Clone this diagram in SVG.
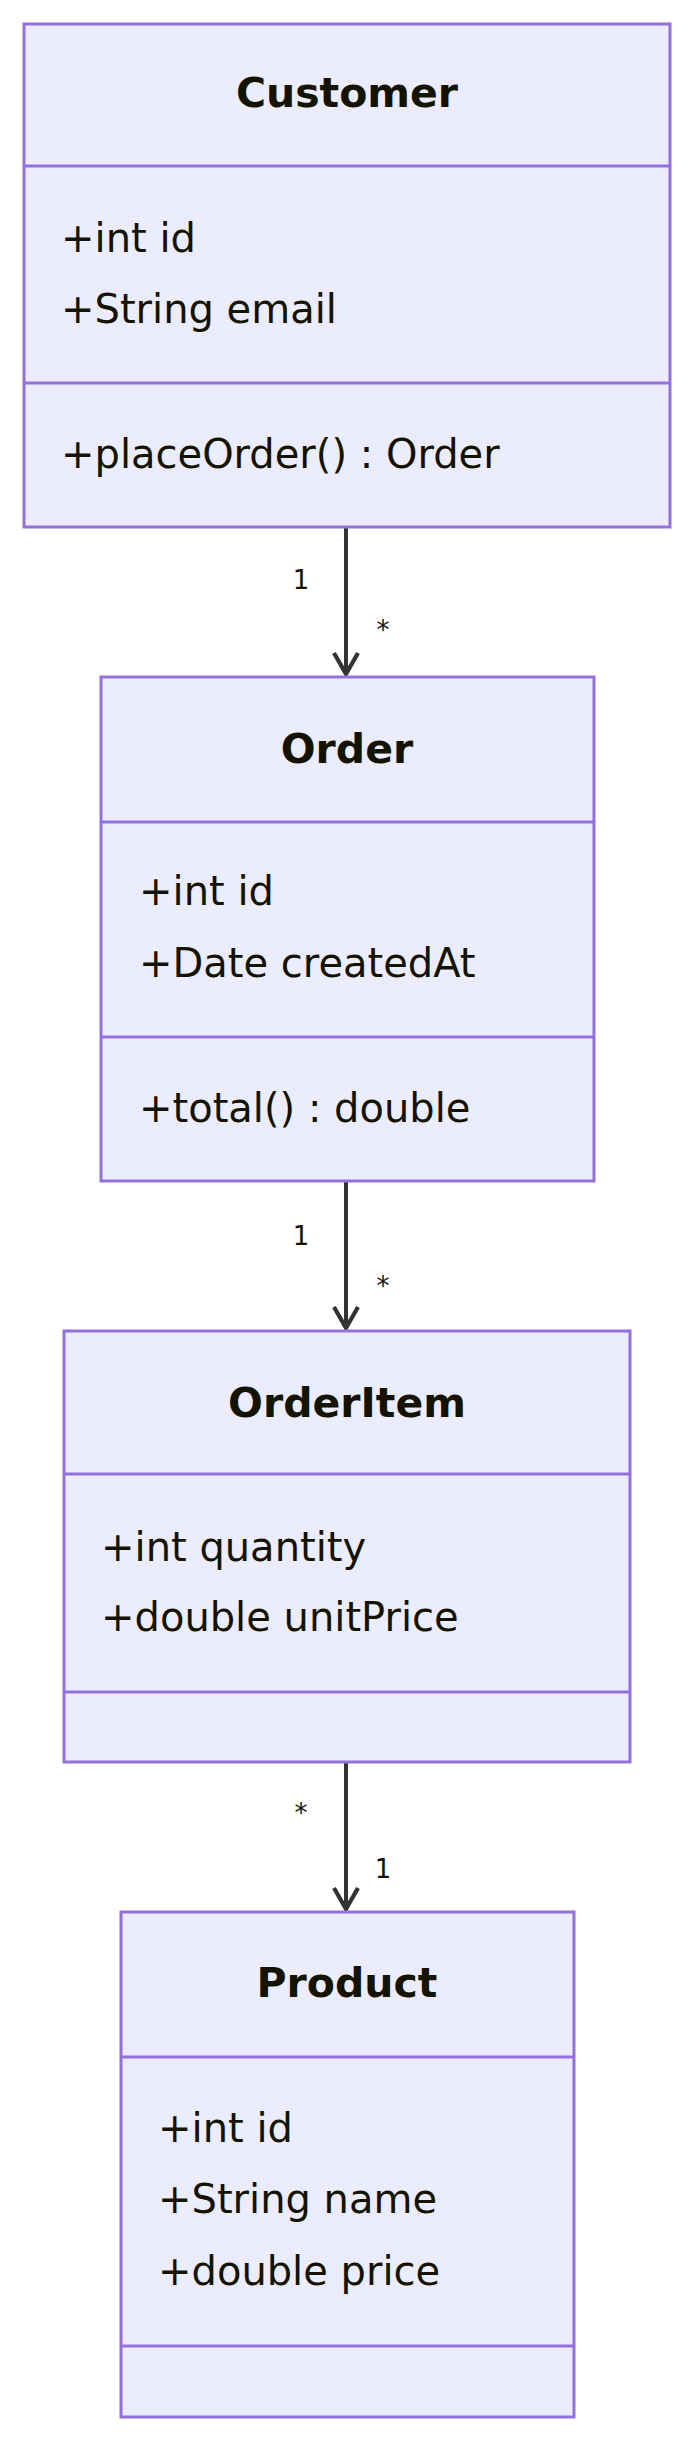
<svg xmlns="http://www.w3.org/2000/svg" width="696" height="2442" viewBox="0 0 696 2442">
<style>
.box{fill:#ECECFF;stroke:#9370DB;stroke-width:3}
.div{stroke:#9370DB;stroke-width:3}
.t{font-family:"DejaVu Sans",sans-serif;font-size:41px;font-weight:bold;fill:#131300;text-anchor:middle;dominant-baseline:central}
.a{font-family:"DejaVu Sans",sans-serif;font-size:40px;fill:#131300;dominant-baseline:central}
.l{font-family:"DejaVu Sans",sans-serif;font-size:26px;fill:#131300;text-anchor:middle;dominant-baseline:central}
.e{stroke:#333;stroke-width:4;fill:none}
</style>
<defs><marker id="ah" viewBox="0 0 20 20" refX="17" refY="10" markerWidth="30" markerHeight="30" markerUnits="userSpaceOnUse" orient="auto"><path d="M3,2 L17,10 L3,18" fill="none" stroke="#333" stroke-width="2.8"/></marker></defs>
<rect width="696" height="2442" fill="#fff"/>
<g id="connectors">
<line class="e" x1="346" y1="527" x2="346" y2="674" marker-end="url(#ah)"/>
<line class="e" x1="346" y1="1181" x2="346" y2="1328" marker-end="url(#ah)"/>
<line class="e" x1="346" y1="1762" x2="346" y2="1909" marker-end="url(#ah)"/>
<text class="l" x="301" y="580">1</text><text class="l" x="383" y="630">*</text>
<text class="l" x="301" y="1236">1</text><text class="l" x="383" y="1286">*</text>
<text class="l" x="301" y="1813">*</text><text class="l" x="383" y="1869">1</text>
</g>
<g id="Customer">
<rect class="box" x="24" y="24" width="646" height="503"/>
<line class="div" x1="24" y1="166" x2="670" y2="166"/><line class="div" x1="24" y1="383" x2="670" y2="383"/>
<text class="t" x="347" y="93">Customer</text>
<text class="a" x="61" y="238">+int id</text><text class="a" x="61" y="309">+String email</text>
<text class="a" x="61" y="454">+placeOrder() : Order</text>
</g>
<g id="Order">
<rect class="box" x="101" y="677" width="493" height="504"/>
<line class="div" x1="101" y1="822" x2="594" y2="822"/><line class="div" x1="101" y1="1037" x2="594" y2="1037"/>
<text class="t" x="347" y="749">Order</text>
<text class="a" x="139" y="891">+int id</text><text class="a" x="139" y="963">+Date createdAt</text>
<text class="a" x="139" y="1108">+total() : double</text>
</g>
<g id="OrderItem">
<rect class="box" x="64" y="1331" width="566" height="431"/>
<line class="div" x1="64" y1="1474" x2="630" y2="1474"/><line class="div" x1="64" y1="1692" x2="630" y2="1692"/>
<text class="t" x="347" y="1403">OrderItem</text>
<text class="a" x="101" y="1547">+int quantity</text><text class="a" x="101" y="1617">+double unitPrice</text>
</g>
<g id="Product">
<rect class="box" x="121" y="1912" width="453" height="505"/>
<line class="div" x1="121" y1="2057" x2="574" y2="2057"/><line class="div" x1="121" y1="2346" x2="574" y2="2346"/>
<text class="t" x="347" y="1983">Product</text>
<text class="a" x="158" y="2128">+int id</text><text class="a" x="158" y="2199">+String name</text><text class="a" x="158" y="2271">+double price</text>
</g>
</svg>
